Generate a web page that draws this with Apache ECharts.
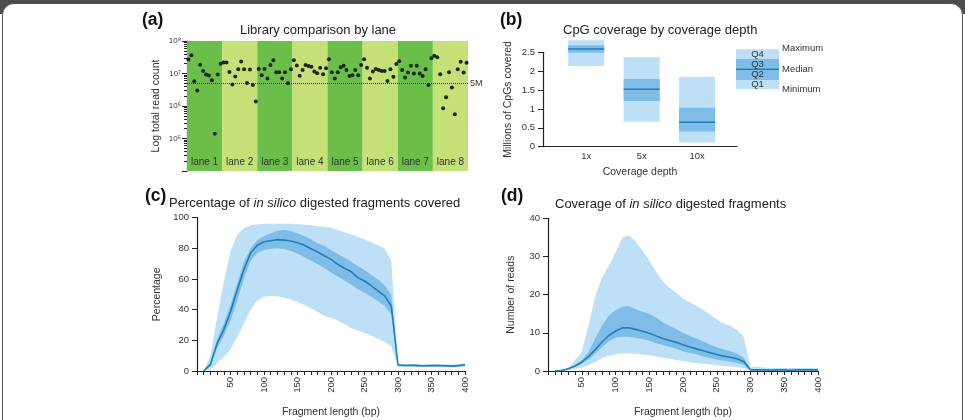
<!DOCTYPE html>
<html lang="en">
<head>
    <meta charset="UTF-8">
    <title>Library and fragment coverage</title>
    <script src="https://cdn.jsdelivr.net/npm/echarts@6/dist/echarts.min.js"></script>
    <style>
        body {margin: 0; background: #fff;}
        #frame-top {position: absolute; left: 0; top: 0; width: 965px; height: 14px; background: #4d4d4d;}
        #frame {position: absolute; left: 2px; top: 3px; width: 959px; height: 440px; border: 1px solid #555; border-radius: 12px; background: #fff;}
        #main {position: absolute; left: 0; top: 0; width: 965px; height: 420px;}
    </style>
</head>
<body>
<div id="frame-top"></div>
<div id="frame"></div>
<div id="main"></div>

<script>
    // (a) log10 of total read count per library, 12 libraries per lane
    const laneNames = ['lane 1', 'lane 2', 'lane 3', 'lane 4', 'lane 5', 'lane 6', 'lane 7', 'lane 8']
    const lane1 = [7.43, 7.56, 6.76, 6.48, 7.27, 7.08, 6.97, 6.94, 6.79, 5.15, 6.97, 7.30]
    const lane2 = [7.34, 7.34, 7.05, 6.66, 6.91, 7.13, 7.37, 7.13, 6.71, 7.12, 6.65, 6.14]
    const lane3 = [7.14, 6.95, 7.14, 6.85, 7.26, 7.41, 7.04, 7.04, 6.85, 7.04, 6.70, 7.13]
    const lane4 = [7.41, 7.25, 6.93, 7.11, 7.26, 7.23, 7.21, 7.06, 7.01, 7.18, 6.98, 7.16]
    const lane5 = [7.44, 7.04, 6.85, 7.04, 7.19, 7.24, 7.11, 6.92, 6.95, 7.11, 6.95, 7.26]
    const lane6 = [7.44, 7.18, 6.85, 7.06, 7.14, 7.11, 7.08, 7.08, 6.77, 7.13, 6.90, 7.29]
    const lane7 = [7.38, 7.11, 6.88, 7.03, 7.24, 7.00, 7.24, 7.00, 6.92, 7.13, 6.65, 7.47]
    const lane8 = [7.55, 7.50, 6.98, 5.93, 6.27, 7.04, 6.57, 5.75, 7.13, 7.36, 7.03, 7.33]
    const laneLogCounts = [lane1, lane2, lane3, lane4, lane5, lane6, lane7, lane8]
    const samplesPerLane = 12
    const cutoff = 5e6

    // (b) millions of CpGs covered
    const depthLabels = ['1x', '5x', '10x']
    const cpgMin = [2.14, 0.66, 0.11]
    const cpgQ1 = [2.49, 1.21, 0.40]
    const cpgMedian = [2.59, 1.52, 0.65]
    const cpgQ3 = [2.69, 1.79, 1.03]
    const cpgMax = [2.82, 2.37, 1.85]

    // (c) and (d) fragment length (bp)
    const fragLen = [10, 20, 30, 40, 50, 60, 70, 80, 90, 100, 110, 120, 130, 140, 150, 160, 170, 180, 190, 200,
        210, 220, 230, 240, 250, 260, 270, 280, 290, 300, 310, 320, 330, 340, 350, 360, 370, 380, 390, 400]

    // (c) percentage of fragments covered
    const pctMin = [0, 1, 5, 9, 14, 22, 31, 40, 46, 48.5, 49, 48.8, 48, 46.5, 45, 43, 41, 38.5, 36, 34.5,
        33, 30.5, 28, 26.5, 25, 23, 21, 19, 16, 2.8, 2.6, 2.7, 2.5, 2.4, 2.5, 2.6, 2.4, 2.3, 2.5, 2.9]
    const pctQ1 = [0, 3, 15, 23, 33, 46, 60, 72, 77, 79, 79.8, 80, 79.6, 78.3, 76.5, 74.3, 72, 69.6, 67, 64.3,
        61.7, 59, 56.5, 53.5, 51, 48.5, 45.7, 42.6, 37, 3.4, 3.2, 3.4, 3.1, 3.0, 3.1, 3.2, 3.0, 2.8, 3.1, 3.6]
    const pctMedian = [0, 4.3, 18, 27, 38.7, 52.8, 66.3, 77, 82, 84.3, 85, 85.7, 85.4, 84.8, 83.7, 82, 79.8, 77.6, 75.2, 72.8,
        69.6, 67, 64.8, 60.9, 58.7, 55.7, 52.2, 49.1, 42.4, 3.9, 3.6, 3.8, 3.5, 3.4, 3.5, 3.6, 3.4, 3.2, 3.5, 4.0]
    const pctQ3 = [0, 5.4, 20.7, 31, 43, 57, 71, 80, 85.4, 88, 89.8, 91.5, 92, 91.3, 89.8, 88, 85.9, 83.3, 81.5, 79,
        76.3, 74, 71.3, 68.7, 65.9, 62.6, 59.8, 56, 49.6, 4.3, 4.0, 4.1, 3.9, 3.8, 3.9, 4.0, 3.8, 3.6, 3.9, 4.4]
    const pctMax = [0, 10, 35, 58, 78, 89, 93, 95, 95.8, 96, 96, 96, 96, 96, 95.8, 95.5, 95, 94.5, 94, 93.5,
        92, 90.5, 89, 87.5, 86, 84, 82, 80, 72, 5, 4.6, 4.7, 4.5, 4.4, 4.5, 4.6, 4.4, 4.3, 4.5, 5.0]

    // (d) number of reads per fragment
    const readsMin = [0, 0, 0.2, 0.5, 0.9, 1.5, 2.3, 3.4, 4.0, 4.4, 4.6, 4.6, 4.5, 4.3, 4.1, 3.8, 3.5, 3.2, 2.9, 2.6,
        2.3, 2.1, 1.9, 1.7, 1.5, 1.3, 1.2, 1.0, 0.8, 0.1, 0, 0, 0, 0, 0, 0, 0, 0, 0, 0]
    const readsQ1 = [0, 0.1, 0.5, 1.1, 1.9, 3, 4.5, 6.3, 7.8, 8.7, 9, 9, 8.7, 8.3, 7.9, 7.3, 6.8, 6.3, 5.8, 5.2,
        4.7, 4.3, 3.8, 3.4, 3.0, 2.7, 2.4, 2.1, 1.6, 0.2, 0.2, 0.2, 0.2, 0.2, 0.2, 0.2, 0.2, 0.2, 0.2, 0.2]
    const readsMedian = [0, 0.1, 0.6, 1.3, 2.3, 3.8, 5.6, 7.6, 9.3, 10.4, 11.3, 11.3, 10.9, 10.4, 9.9, 9.2, 8.5, 8.0, 7.5, 6.9,
        6.3, 5.8, 5.3, 4.8, 4.3, 3.9, 3.6, 3.2, 2.5, 0.3, 0.3, 0.3, 0.2, 0.3, 0.3, 0.2, 0.3, 0.3, 0.3, 0.3]
    const readsQ3 = [0, 0.1, 0.7, 1.5, 2.8, 5, 8.5, 12, 14.5, 16, 16.8, 17, 16.2, 15.5, 15, 14, 12.8, 11.8, 11, 10,
        9.2, 8.5, 7.7, 6.9, 6.2, 5.7, 5.2, 4.6, 3.5, 0.4, 0.4, 0.4, 0.4, 0.4, 0.4, 0.4, 0.4, 0.4, 0.4, 0.4]
    const readsMax = [0, 0.2, 0.8, 2.9, 5, 12, 19.5, 24.5, 27.5, 31, 35, 35.5, 34, 31.5, 29, 26, 23.5, 21.8, 20.5, 19,
        18, 17, 16, 14.8, 13.5, 12.5, 11.8, 10.8, 9, 1.0, 1.2, 0.9, 0.8, 0.8, 0.8, 0.8, 0.8, 0.8, 0.8, 0.8]

    const FONT = 'Liberation Sans'
    const TXT = '#333'
    const AX = '#222'
    const GREEN_DARK = '#6cbe4b'
    const GREEN_LIGHT = '#c6e078'
    const BLUE_LIGHT = '#bde0f6'
    const BLUE_MID = '#7fbde8'
    const BLUE_LINE = '#1f80b8'
    const SUP = {4: '⁴', 5: '⁵', 6: '⁶', 7: '⁷', 8: '⁸'}

    const points = []
    laneLogCounts.forEach((lane, l) => {
        lane.forEach((v, i) => points.push([l * samplesPerLane + i + 0.5, Math.pow(10, v)]))
    })

    const laneAreas = laneNames.map((name, l) => [
        {
            xAxis: l * samplesPerLane,
            itemStyle: {color: l % 2 === 0 ? GREEN_DARK : GREEN_LIGHT},
            label: {formatter: name}
        },
        {xAxis: (l + 1) * samplesPerLane}
    ])

    // band between two curves, drawn once as a polygon through the axis scales
    function bandPolygon(idx, lo, hi, color) {
        return {
            type: 'custom', xAxisIndex: idx, yAxisIndex: idx, silent: true,
            data: fragLen.map((x, i) => [x, lo[i], hi[i]]),
            encode: {x: 0, y: [1, 2]},
            renderItem: function (params, api) {
                if (params.dataIndex !== 0) return null
                const upper = fragLen.map((x, i) => api.coord([x, hi[i]]))
                const lower = fragLen.map((x, i) => api.coord([x, lo[i]])).reverse()
                return {type: 'polygon', shape: {points: upper.concat(lower)}, style: {fill: color}}
            }
        }
    }

    function bandSeries(idx, lo, q1, med, q3, hi) {
        return [
            bandPolygon(idx, lo, hi, BLUE_LIGHT),
            bandPolygon(idx, q1, q3, BLUE_MID),
            {
                type: 'line', xAxisIndex: idx, yAxisIndex: idx, symbol: 'none', silent: true, z: 4,
                data: fragLen.map((x, i) => [x, med[i]]),
                lineStyle: {color: BLUE_LINE, width: 1.6}
            }
        ]
    }

    function fragXAxis(idx) {
        return {
            gridIndex: idx, type: 'value', min: 0, max: 400, interval: 10,
            name: 'Fragment length (bp)', nameLocation: 'middle', nameGap: 36,
            nameTextStyle: {fontSize: 10.5, color: TXT, fontFamily: FONT},
            axisLine: {onZero: false, lineStyle: {color: AX, width: 1.2}},
            axisTick: {length: 4, lineStyle: {color: AX}},
            splitLine: {show: false},
            axisLabel: {
                rotate: 90, fontSize: 9.5, color: TXT, margin: 6, fontFamily: FONT,
                formatter: v => (v > 0 && v % 50 === 0) ? String(v) : ''
            }
        }
    }

    function plainYAxis(idx, max, interval, name, gap) {
        return {
            gridIndex: idx, type: 'value', min: 0, max: max, interval: interval,
            name: name, nameLocation: 'middle', nameGap: gap,
            nameTextStyle: {fontSize: 10.5, color: TXT, fontFamily: FONT},
            axisLine: {show: true, onZero: false, lineStyle: {color: AX, width: 1.2}},
            axisTick: {show: true, length: 5, lineStyle: {color: AX}},
            splitLine: {show: false},
            axisLabel: {fontSize: 9.5, color: TXT, margin: 8, fontFamily: FONT}
        }
    }

    const titleStyle = {fontSize: 13, fontWeight: 'normal', color: '#222', fontFamily: FONT,
        rich: {i: {fontStyle: 'italic', fontSize: 13, color: '#222', fontFamily: FONT}}}
    const tagStyle = {fontSize: 17.5, fontWeight: 'bold', color: '#111', fontFamily: FONT}

    const chart = echarts.init(document.getElementById('main'))

    const option = {
        animation: false,
        textStyle: {fontFamily: FONT},
        title: [
            {text: '(a)', left: 142, top: 11, padding: 0, textStyle: tagStyle},
            {text: 'Library comparison by lane', left: 240, top: 24, padding: 0, textStyle: titleStyle},
            {text: '(b)', left: 500, top: 11, padding: 0, textStyle: tagStyle},
            {text: 'CpG coverage by coverage depth', left: 563, top: 24, padding: 0, textStyle: titleStyle},
            {text: '(c)', left: 145, top: 187, padding: 0, textStyle: tagStyle},
            {text: 'Percentage of {i|in silico} digested fragments covered', left: 169, top: 197, padding: 0, textStyle: titleStyle},
            {text: '(d)', left: 501, top: 187, padding: 0, textStyle: tagStyle},
            {text: 'Coverage of {i|in silico} digested fragments', left: 555, top: 198, padding: 0, textStyle: titleStyle}
        ],
        grid: [
            {left: 187, top: 41, width: 281, height: 130},
            {left: 543, top: 52.3, width: 194, height: 94.4},
            {left: 197, top: 217.7, width: 268, height: 153.3},
            {left: 548, top: 218.3, width: 270, height: 152.7}
        ],
        xAxis: [
            {gridIndex: 0, type: 'value', min: 0, max: laneNames.length * samplesPerLane, show: false},
            {
                gridIndex: 1, type: 'value', min: -0.78, max: 2.72,
                name: 'Coverage depth', nameLocation: 'middle', nameGap: 20,
                nameTextStyle: {fontSize: 10.5, color: TXT, fontFamily: FONT},
                axisLine: {onZero: false, lineStyle: {color: AX, width: 1.2}},
                axisTick: {show: false},
                splitLine: {show: false},
                axisLabel: {
                    fontSize: 9.5, color: TXT, margin: 5, fontFamily: FONT,
                    formatter: v => {
                        const r = Math.round(v)
                        return (Math.abs(v - r) < 1e-6 && depthLabels[r]) ? depthLabels[r] : ''
                    }
                }
            },
            fragXAxis(2),
            fragXAxis(3)
        ],
        yAxis: [
            {
                gridIndex: 0, type: 'log', logBase: 10, min: 1e4, max: 1e8,
                name: 'Log total read count', nameLocation: 'middle', nameGap: 25,
                nameTextStyle: {fontSize: 10.5, color: TXT, fontFamily: FONT},
                axisLine: {show: true, onZero: false, lineStyle: {color: AX, width: 1.2}},
                axisTick: {show: true, length: 5, lineStyle: {color: AX}},
                minorTick: {show: true, splitNumber: 9, length: 3, lineStyle: {color: AX}},
                splitLine: {show: false},
                axisLabel: {
                    fontSize: 8, color: TXT, margin: 6, fontFamily: FONT,
                    formatter: v => {
                        const e = Math.round(Math.log10(v))
                        return e === 4 ? '' : '10' + SUP[e]
                    }
                }
            },
            plainYAxis(1, 2.5, 0.5, 'Millions of CpGs covered', 29),
            plainYAxis(2, 100, 20, 'Percentage', 34),
            plainYAxis(3, 40, 10, 'Number of reads', 31)
        ],
        graphic: [
            {type: 'rect', shape: {x: 736, y: 49.3, width: 43, height: 40}, style: {fill: BLUE_LIGHT}},
            {type: 'rect', shape: {x: 736, y: 59, width: 43, height: 21}, style: {fill: BLUE_MID}},
            {type: 'line', shape: {x1: 736, y1: 69.3, x2: 779, y2: 69.3}, style: {stroke: BLUE_LINE, lineWidth: 1.5}},
            {type: 'text', x: 757.5, y: 54.5, style: {text: 'Q4', fontSize: 9.5, fill: TXT, align: 'center', verticalAlign: 'middle', fontFamily: FONT}},
            {type: 'text', x: 757.5, y: 64, style: {text: 'Q3', fontSize: 9.5, fill: TXT, align: 'center', verticalAlign: 'middle', fontFamily: FONT}},
            {type: 'text', x: 757.5, y: 74.5, style: {text: 'Q2', fontSize: 9.5, fill: TXT, align: 'center', verticalAlign: 'middle', fontFamily: FONT}},
            {type: 'text', x: 757.5, y: 84.5, style: {text: 'Q1', fontSize: 9.5, fill: TXT, align: 'center', verticalAlign: 'middle', fontFamily: FONT}},
            {type: 'text', x: 782, y: 48.5, style: {text: 'Maximum', fontSize: 9.5, fill: TXT, verticalAlign: 'middle', fontFamily: FONT}},
            {type: 'text', x: 782, y: 69.5, style: {text: 'Median', fontSize: 9.5, fill: TXT, verticalAlign: 'middle', fontFamily: FONT}},
            {type: 'text', x: 782, y: 89.5, style: {text: 'Minimum', fontSize: 9.5, fill: TXT, verticalAlign: 'middle', fontFamily: FONT}}
        ],
        series: [
            // lane bands
            {
                type: 'scatter', xAxisIndex: 0, yAxisIndex: 0, data: [], z: 1, silent: true,
                markArea: {
                    silent: true,
                    label: {show: true, position: 'insideBottom', distance: 4, color: TXT, fontSize: 10, fontFamily: FONT},
                    data: laneAreas
                }
            },
            {
                type: 'scatter', xAxisIndex: 0, yAxisIndex: 0, data: points, z: 5,
                symbolSize: 4, itemStyle: {color: '#1a2a1a', opacity: 1},
                markLine: {
                    silent: true, symbol: 'none',
                    lineStyle: {type: 'dotted', color: '#333', width: 1},
                    label: {position: 'end', formatter: '5M', fontSize: 9, color: TXT, distance: 2, fontFamily: FONT},
                    data: [{yAxis: cutoff}]
                }
            },
            // CpG boxes
            {
                type: 'custom', xAxisIndex: 1, yAxisIndex: 1, clip: false,
                data: depthLabels.map((d, i) => [i, cpgMin[i], cpgQ1[i], cpgMedian[i], cpgQ3[i], cpgMax[i]]),
                encode: {x: 0, y: [1, 5]},
                renderItem: function (params, api) {
                    const x = api.value(0)
                    const w = api.size([1, 0])[0] * 0.65
                    const pMin = api.coord([x, api.value(1)])
                    const pQ1 = api.coord([x, api.value(2)])
                    const pMed = api.coord([x, api.value(3)])
                    const pQ3 = api.coord([x, api.value(4)])
                    const pMax = api.coord([x, api.value(5)])
                    return {
                        type: 'group',
                        children: [
                            {type: 'rect', shape: {x: pMax[0] - w / 2, y: pMax[1], width: w, height: pMin[1] - pMax[1]}, style: {fill: BLUE_LIGHT}},
                            {type: 'rect', shape: {x: pQ3[0] - w / 2, y: pQ3[1], width: w, height: pQ1[1] - pQ3[1]}, style: {fill: BLUE_MID}},
                            {type: 'line', shape: {x1: pMed[0] - w / 2, y1: pMed[1], x2: pMed[0] + w / 2, y2: pMed[1]}, style: {stroke: BLUE_LINE, lineWidth: 1.5}}
                        ]
                    }
                }
            }
        ]
            .concat(bandSeries(2, pctMin, pctQ1, pctMedian, pctQ3, pctMax))
            .concat(bandSeries(3, readsMin, readsQ1, readsMedian, readsQ3, readsMax))
    }

    chart.setOption(option)
</script>
</body>
</html>
